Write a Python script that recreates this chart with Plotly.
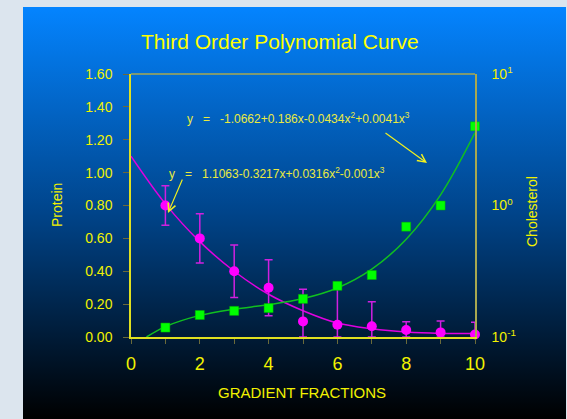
import base64
import plotly.graph_objects as go

# ---------------- data ----------------
fractions = [1, 2, 3, 4, 5, 6, 7, 8, 9, 10]
protein = [0.80, 0.60, 0.40, 0.30, 0.095, 0.075, 0.065, 0.043, 0.028, 0.015]
protein_err_plus = [0.12, 0.15, 0.16, 0.17, 0.195, 0.23, 0.15, 0.05, 0.07, 0.075]
protein_err_minus = [0.12, 0.15, 0.16, 0.17, 0.095, 0.075, 0.065, 0.043, 0.028, 0.015]
cholesterol = [0.118, 0.147, 0.158, 0.166, 0.195, 0.245, 0.296, 0.69, 1.0, 4.0]

# fitted curves
protein_fit_x = [0, 1, 2, 3, 4, 5, 6, 7, 8, 9, 10]
protein_fit_y = [1.10, 0.81, 0.58, 0.40, 0.26, 0.16, 0.085, 0.05, 0.03, 0.022, 0.022]
chol_fit_x = [0.45, 1, 2, 3, 4, 5, 6, 7, 8, 9, 10]
chol_fit_y = [0.10, 0.12, 0.146, 0.163, 0.176, 0.196, 0.236, 0.328, 0.554, 1.205, 3.58]

x_tickvals = [0, 1, 2, 3, 4, 5, 6, 7, 8, 9, 10]
x_ticktext = ["0", "", "2", "", "4", "", "6", "", "8", "", "10"]
right_tickvals = [0.1, 1, 10]
right_ticktext = ["10<sup>-1</sup>", "10<sup>0</sup>", "10<sup>1</sup>"]

title_text = "Third Order Polynomial Curve"
eq_chol = "y\u00a0\u00a0\u00a0=\u00a0\u00a0\u00a0-1.0662+0.186x-0.0434x<sup>2</sup>+0.0041x<sup>3</sup>"
eq_prot = "y\u00a0\u00a0\u00a0=\u00a0\u00a0\u00a01.1063-0.3217x+0.0316x<sup>2</sup>-0.001x<sup>3</sup>"

# ---------------- style ----------------
W, H = 567, 419
FONT = "Liberation Sans, Arial, sans-serif"
YEL = "#F2F200"
YEL_LINE = "#E0E020"
OLIVE = "#A8A850"
TICKC = "#6A6A3A"
MAG = "#FF00FF"
GRN = "#00FF00"

def px_x(p):
    return p / W

def px_y(p):
    return 1 - p / H

x_dom = [px_x(131), px_x(475)]
y_dom = [px_y(337), px_y(74)]

fig = go.Figure()

fig.add_trace(go.Scatter(
    x=protein_fit_x, y=protein_fit_y, mode="lines",
    line=dict(color="#E000E0", width=1.5, shape="spline", smoothing=1.0),
    hoverinfo="skip", showlegend=False, cliponaxis=True))
fig.add_trace(go.Scatter(
    x=fractions, y=protein, mode="markers",
    marker=dict(symbol="circle", size=10, color=MAG),
    error_y=dict(type="data", symmetric=False, array=protein_err_plus,
                 arrayminus=protein_err_minus, color="#D020E0",
                 thickness=1.5, width=4),
    showlegend=False, cliponaxis=False))
fig.add_trace(go.Scatter(
    x=chol_fit_x, y=chol_fit_y, mode="lines", yaxis="y2",
    line=dict(color="#10C020", width=1.5, shape="spline", smoothing=1.0),
    hoverinfo="skip", showlegend=False, cliponaxis=True))
fig.add_trace(go.Scatter(
    x=fractions, y=cholesterol, mode="markers", yaxis="y2",
    marker=dict(symbol="square", size=9, color=GRN,
                line=dict(color="#00B000", width=0.5)),
    showlegend=False, cliponaxis=False))

svg = ('<svg xmlns="http://www.w3.org/2000/svg" width="567" height="419">'
       '<defs><linearGradient id="g" x1="0" y1="0" x2="0" y2="1">'
       '<stop offset="0" stop-color="#0484FF"/>'
       '<stop offset="0.5" stop-color="#00448A"/>'
       '<stop offset="1" stop-color="#000000"/>'
       '</linearGradient></defs>'
       '<rect width="567" height="419" fill="url(#g)"/></svg>')
src = "data:image/svg+xml;base64," + base64.b64encode(svg.encode()).decode()

fig.update_layout(
    width=W, height=H,
    margin=dict(l=0, r=0, t=0, b=0, pad=0, autoexpand=False),
    paper_bgcolor="#DCE5EE",
    plot_bgcolor="rgba(0,0,0,0)",
    showlegend=False,
    images=[dict(source=src, xref="paper", yref="paper",
                 x=px_x(23), y=px_y(7), sizex=(566 - 23) / W, sizey=(419 - 7) / H,
                 xanchor="left", yanchor="top", sizing="stretch", layer="below")],
    xaxis=dict(domain=x_dom, range=[0, 10], showgrid=False, zeroline=False,
               automargin=False,
               showline=True, linecolor=YEL_LINE, linewidth=1.5,
               tickvals=x_tickvals, ticktext=x_ticktext,
               ticks="outside", ticklen=5, tickcolor=TICKC, tickwidth=1,
               tickfont=dict(family=FONT, size=18, color=YEL),
               ticklabelstandoff=5),
    yaxis=dict(domain=y_dom, range=[0, 1.6], showgrid=False, zeroline=False,
               automargin=False,
               showline=True, linecolor=YEL_LINE, linewidth=1.5,
               dtick=0.2, tick0=0, tickformat=".2f",
               ticks="outside", ticklen=6, tickcolor=TICKC, tickwidth=1,
               tickfont=dict(family=FONT, size=14, color=YEL),
               ticklabelstandoff=8),
    yaxis2=dict(overlaying="y", side="right", type="log", range=[-1, 1],
                automargin=False,
                showgrid=False, zeroline=False, showline=True,
                linecolor=OLIVE, linewidth=1.5, ticks="",
                tickvals=right_tickvals, ticktext=right_ticktext,
                tickfont=dict(family=FONT, size=14, color=YEL),
                ticklabelstandoff=12),
    shapes=[dict(type="line", xref="x domain", yref="y domain",
                 x0=0, x1=1, y0=1, y1=1,
                 line=dict(color=OLIVE, width=1.5))],
)

annots = [
    dict(text=title_text, xref="paper", yref="paper", x=px_x(280), y=px_y(42),
         showarrow=False, xanchor="center", yanchor="middle",
         font=dict(family=FONT, size=21, color="#FFFF00")),
    dict(text="Protein", xref="paper", yref="paper", x=px_x(57), y=px_y(205),
         showarrow=False, textangle=-90, xanchor="center", yanchor="middle",
         font=dict(family=FONT, size=14, color=YEL)),
    dict(text="Cholesterol", xref="paper", yref="paper", x=px_x(532), y=px_y(212),
         showarrow=False, textangle=-90, xanchor="center", yanchor="middle",
         font=dict(family=FONT, size=14, color=YEL)),
    dict(text="GRADIENT FRACTIONS", xref="paper", yref="paper", x=px_x(302), y=px_y(392),
         showarrow=False, xanchor="center", yanchor="middle",
         font=dict(family=FONT, size=15, color=YEL)),
    dict(text=eq_chol, xref="paper", yref="paper", x=px_x(185), y=px_y(118),
         showarrow=False, xanchor="left", yanchor="middle",
         font=dict(family=FONT, size=12, color="#EAEA40")),
    dict(text=eq_prot, xref="paper", yref="paper", x=px_x(167), y=px_y(173),
         showarrow=False, xanchor="left", yanchor="middle",
         font=dict(family=FONT, size=12, color="#EAEA40")),
    # arrows
    dict(text="", xref="paper", yref="paper", x=px_x(427), y=px_y(163),
         ax=-43, ay=-31, showarrow=True, arrowhead=5, arrowsize=1.3,
         arrowwidth=1.2, arrowcolor="#F0F020"),
    dict(text="", xref="paper", yref="paper", x=px_x(168), y=px_y(213),
         ax=15, ay=-35, showarrow=True, arrowhead=5, arrowsize=1.3,
         arrowwidth=1.2, arrowcolor="#F0F020"),
]
fig.update_layout(annotations=annots)

fig.write_html("out.html", config=dict(displayModeBar=False),
               post_script="document.body.style.margin='0px';"
                           "document.body.style.overflow='hidden';")
